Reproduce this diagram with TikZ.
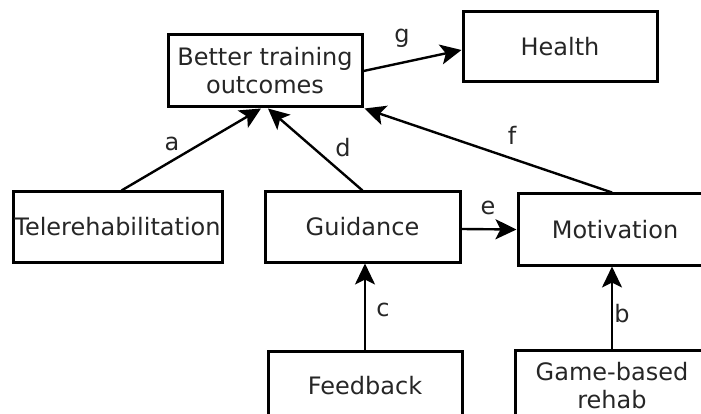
\documentclass[tikz,border=0pt]{standalone}
\usepackage{fontspec}
\setmainfont{DejaVu Sans}
\usetikzlibrary{arrows.meta}
\begin{document}
\begin{tikzpicture}[x=1pt,y=-1pt,
  box/.style={draw=black, line width=3pt, fill=white, inner sep=0pt, align=center,
    font=\fontsize{24}{28}\selectfont, text=black!85},
  conn/.style={line width=2.4pt, -{Stealth[length=21pt,width=20pt,inset=5pt,fill=black]}},
  lab/.style={font=\fontsize{24}{28}\selectfont, text=black!85, inner sep=0pt}]
\useasboundingbox (0,0) rectangle (701,414);
\clip (0,0) rectangle (701,414);
\node[box, minimum width=194pt, minimum height=72pt] (bto) at (265,71) {Better training\\outcomes};
\node[box, minimum width=194pt, minimum height=70pt] (health) at (560,47) {Health};
\node[box, minimum width=209pt, minimum height=70pt] (tele) at (117.5,227) {Telerehabilitation};
\node[box, minimum width=195pt, minimum height=70pt] (guid) at (362.5,227) {Guidance};
\node[box, minimum width=194pt, minimum height=71pt] (mot) at (615,229.5) {Motivation};
\node[box, minimum width=194pt, minimum height=70pt] (fb) at (365,386) {Feedback};
\node[box, minimum width=194pt, minimum height=72pt] (game) at (612,386) {Game-based\\rehab};
\draw[conn] ([xshift=4pt]tele.north) -- ([xshift=-4pt]bto.south);
\draw[conn] (guid.north) -- ([xshift=3pt]bto.south);
\draw[conn] ([xshift=-3pt]mot.north) -- ([xshift=1pt]bto.south east);
\draw[conn] ([yshift=0pt]bto.east) -- ([yshift=-3pt]health.west);
\draw[conn] ([yshift=-2pt]guid.east) -- (mot.west);
\draw[conn] (fb.north) -- (fb.north |- guid.south);
\draw[conn] (game.north) -- (game.north |- mot.south);
\node[lab] (la) at (172,144) {a};
\node[lab] (ld) at (343,148) {d};
\node[lab] (lf) at (512,135) {f};
\node[lab] (lg) at (402,38) {g};
\node[lab] (le) at (488,208) {e};
\node[lab] (lc) at (383,310) {c};
\node[lab] (lb) at (622,314) {b};
\end{tikzpicture}
\end{document}
